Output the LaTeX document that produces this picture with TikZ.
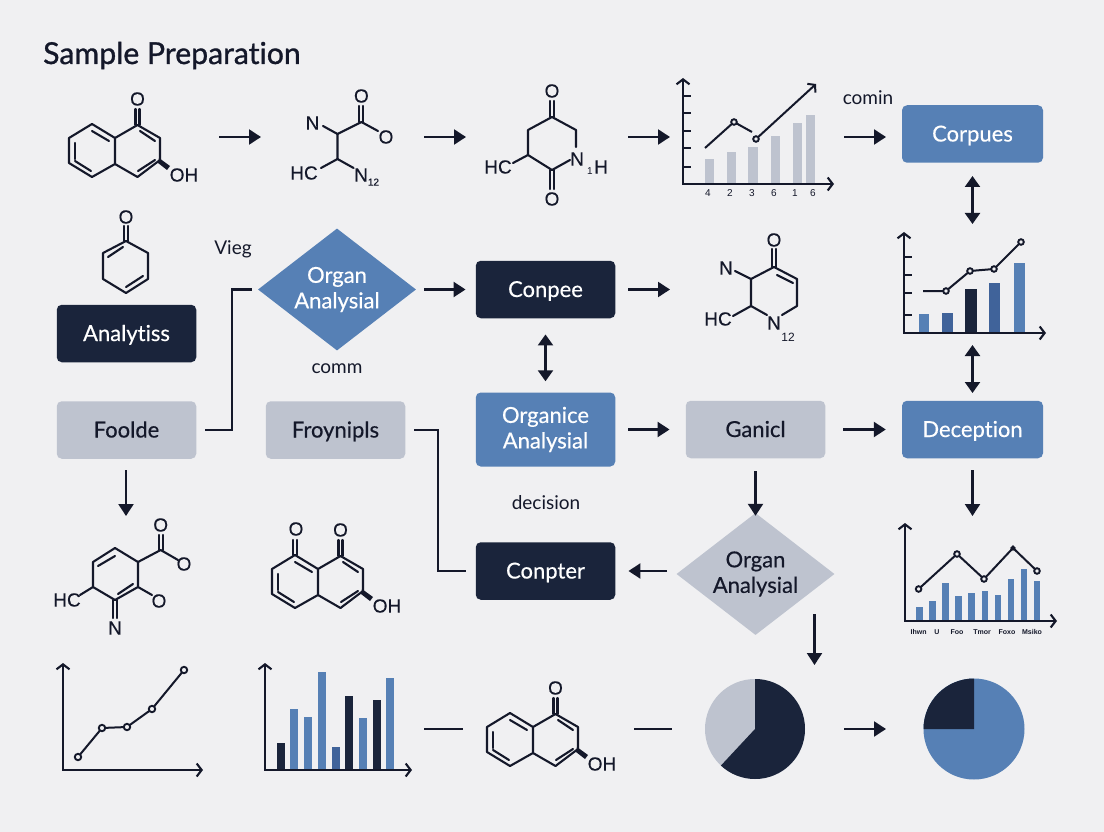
\documentclass[tikz,border=0pt]{standalone}
\usepackage{fontspec}
\setmainfont{Lato}
\newfontfamily\molf[FakeBold=0.3]{Liberation Sans}
\newfontfamily\tickf{Liberation Sans}
\newfontfamily\titlef[FakeBold=1,Ligatures=NoCommon]{Lato}
\newfontfamily\nodef[FakeBold=0.4,Ligatures=NoCommon]{Lato}
\usetikzlibrary{arrows.meta,shapes.geometric}
\definecolor{bg}{HTML}{F0F0F2}
\definecolor{ink}{HTML}{14182A}
\definecolor{navy}{HTML}{1A243B}
\definecolor{blue}{HTML}{5680B5}
\definecolor{midblue}{HTML}{40639A}
\definecolor{grey}{HTML}{BEC3CF}
\tikzset{
  boxshape/.style={rectangle,rounded corners=5pt,minimum width=139.5pt,minimum height=57.5pt,inner sep=0pt,align=center,font=\nodef\fontsize{22}{25.5}\selectfont},
  oneline/.style={text height=20pt,text depth=5pt},
  boxdark/.style={boxshape,oneline,fill=navy,text=white},
  boxblue/.style={boxshape,oneline,fill=blue,text=white},
  boxgrey/.style={boxshape,oneline,fill=grey,text=ink},
  boxblueii/.style={boxshape,fill=blue,text=white},
  diashape/.style={diamond,aspect=1.295,minimum width=158pt,minimum height=122pt,inner sep=0pt,align=center,font=\nodef\fontsize{22}{25.5}\selectfont},
  lbl/.style={inner sep=0pt,text=ink,font=\fontsize{19}{22}\selectfont},
  atom/.style={inner sep=0pt,text=ink,font=\molf\fontsize{19}{20}\selectfont},
  tiny/.style={inner sep=0pt,text=ink,font=\tickf\fontsize{10}{11}\selectfont},
  bond/.style={draw=ink,line width=2.1pt,line join=round,line cap=round},
  conn/.style={draw=ink,line width=2.3pt},
  arr/.style={conn,-{Triangle[length=12pt,width=15pt]}},
  arrboth/.style={conn,{Triangle[length=11pt,width=15pt]}-{Triangle[length=11pt,width=15pt]}},
  axis/.style={draw=ink,line width=2.1pt,{Straight Barb[length=5pt,width=13pt]}-{Straight Barb[length=5pt,width=13pt]}},
  plot/.style={draw=ink,line width=2pt},
  dot/.style={draw=ink,line width=1.9pt,fill=bg},
}
% naphthalene skeleton with its first carbonyl and hydroxyl
\newcommand{\naph}[3]{%
\begin{scope}[shift={(#2,#3)}]
  \draw[bond] (92,124) -- (69,138) -- (69,163) -- (92,177) -- (115,164) -- (115,138) -- cycle;
  \draw[bond] (115,138) -- (137.5,125) -- (160,138) -- (160,160) -- (137.5,177) -- (115,164);
  \draw[bond] (92,131) -- (109,141);
  \draw[bond] (75,143) -- (75,159);
  \draw[bond] (75,161) -- (91,171);
  \draw[bond] (140,131) -- (155,141);
  \draw[bond] (138,171) -- (155,160);
  \draw[bond] (135.5,125) -- (135.5,109);
  \draw[bond] (139.5,125) -- (139.5,109);
  \fill[ink] (159,158) -- (170,166) -- (167,170) -- (158,163) -- cycle;
  \node[atom] (#1o) at (137.5,99) {O};
  \node[atom] (#1oh) at (184,175) {OH};
\end{scope}}
\begin{document}
\begin{tikzpicture}[x=1pt,y=-1pt]
\useasboundingbox[fill=bg] (0,0) rectangle (1104,832);

\node[anchor=base west,inner sep=0pt,text=ink,font=\titlef\fontsize{30.2}{33}\selectfont] (title) at (43,64) {Sample Preparation};

% ---------- molecules
\naph{a}{0}{0}
\naph{b}{203}{431}
\naph{c}{418}{589}
\begin{scope}[shift={(203,431)}]
  \draw[bond] (90,124) -- (90,109); \draw[bond] (94,124) -- (94,109);
\end{scope}
\node[atom] (bo2) at (296,529) {O};

% molecule 2
\draw[bond] (323,126) -- (337.5,134) -- (361.4,122) -- (378,131);
\draw[bond] (359.4,122) -- (359.4,106); \draw[bond] (363.4,122) -- (363.4,106);
\draw[bond] (337.5,134) -- (337.5,159) -- (321,168);
\draw[bond] (337.5,159) -- (353.6,168);
\node[atom] (m2n) at (312.5,123) {N};
\node[atom] (m2o) at (361.4,96) {O};
\node[atom] (m2r) at (386,137) {O};
\node[atom] (m2hc) at (304,173) {HC};
\node[atom,anchor=west] (m2n2) at (354,177) {N\raisebox{-4pt}{\fontsize{10}{10}\selectfont 12}};

% molecule 3
\draw[bond] (552,117) -- (576,130) -- (576,147);
\draw[bond] (552,117) -- (528,130) -- (528,155) -- (552,170) -- (570,160);
\draw[bond] (528,155) -- (513,163);
\draw[bond] (550,117) -- (550,101); \draw[bond] (554,117) -- (554,101);
\draw[bond] (550,170) -- (550,189); \draw[bond] (554,170) -- (554,189);
\node[atom] (m3o) at (552,91) {O};
\node[atom] (m3p) at (552,199) {O};
\node[atom] (m3hc) at (498,167) {HC};
\node[atom,anchor=west] (m3n) at (570,159) {N};
\node[atom,anchor=west] (m3h) at (594,167) {H};
\node[tiny] (m3s) at (590,171) {1};

% single ring
\draw[bond] (126,241) -- (148,253) -- (148,279) -- (126,293) -- (103,279) -- (103,253) -- cycle;
\draw[bond] (108,257) -- (123,247);
\draw[bond] (126,287) -- (143,276);
\draw[bond] (124,241) -- (124,226); \draw[bond] (128,241) -- (128,226);
\node[atom] (m4o) at (126,217) {O};

% molecule right of Conpee
\draw[bond] (735,271) -- (751,279) -- (751,306);
\draw[bond] (751,279) -- (774,267) -- (797,279) -- (797,306) -- (782,315);
\draw[bond] (751,306) -- (767,315);
\draw[bond] (751,306) -- (733,316);
\draw[bond] (777,275) -- (793,283);
\draw[bond] (772,267) -- (772,249); \draw[bond] (776,267) -- (776,249);
\node[atom] (m5o) at (774,240) {O};
\node[atom] (m5n) at (726,268) {N};
\node[atom] (m5hc) at (718,319) {HC};
\node[atom] (m5m) at (774,323) {N};
\node[tiny,font=\tickf\fontsize{12}{12}\selectfont] (m5s) at (788,337) {12};

% molecule row 4 left
\draw[bond] (138,562) -- (115,548) -- (93,562) -- (93,587) -- (115,600) -- (138,587) -- cycle;
\draw[bond] (115,556) -- (98,566);
\draw[bond] (118,594) -- (133,584);
\draw[bond] (138,562) -- (160.7,550) -- (178,560);
\draw[bond] (158.7,550) -- (158.7,535); \draw[bond] (162.7,550) -- (162.7,535);
\draw[bond] (138,587) -- (152,595);
\draw[bond] (93,587) -- (80,595);
\draw[bond] (113,600) -- (113,618); \draw[bond] (117,600) -- (117,618);
\node[atom] (m6o) at (160.7,525) {O};
\node[atom] (m6r) at (184,564) {O};
\node[atom] (m6s) at (159,601) {O};
\node[atom] (m6hc) at (67,600) {HC};
\node[atom] (m6n) at (115,628) {N};

% ---------- chart 1
\foreach \xa/\xb/\yt in {705/714/159,727/736/152,748/758/147,771/780/136,793/802/123,806/815/115}
  \fill[grey] (\xa,\yt) rectangle (\xb,183);
\draw[axis] (683,78) -- (683,184) -- (834,184);
\foreach \yt in {96,113,131,148,167} \draw[plot] (683,\yt) -- (691,\yt);
\draw[plot] (705,148) -- (734,122);
\draw[plot] (734,122) -- (752,132);
\draw[plot,-{Straight Barb[length=5pt,width=12pt]}] (756,139) -- (816,84);
\draw[dot] (734,122) circle[radius=2.8];
\draw[dot] (756,139) circle[radius=2.8];
\foreach \xa/\lab/\nm in {708/4/p,730/2/q,752/3/r,774/6/s,795/1/t,813/6/u}
  \node[tiny] (tick\nm) at (\xa,193) {\lab};

% ---------- chart 2
\fill[blue] (919,314) rectangle (929,333);
\fill[midblue] (942,313) rectangle (953,333);
\fill[navy] (965,289) rectangle (977,333);
\fill[midblue] (989,283) rectangle (1000,333);
\fill[blue] (1014,263) rectangle (1025,333);
\draw[axis] (904,232) -- (904,333) -- (1046,333);
\foreach \yt in {257,275,293,315} \draw[plot] (904,\yt) -- (912,\yt);
\draw[plot] (923,291) -- (946,291) -- (970,271) -- (994,269) -- (1021,242);
\foreach \xa/\yt in {946/291,970/271,994/269,1021/242} \draw[dot] (\xa,\yt) circle[radius=2.8];

% ---------- chart 3
\foreach \xc/\yt in {919.4/607,932.4/601,945.5/583,958.6/596,971.6/593,984.7/591,997.8/595,1010.8/579,1023.9/569,1037/581}
  \fill[blue] (\xc-3.2,\yt) rectangle (\xc+3.2,620);
\draw[axis] (905,523) -- (905,621) -- (1057,621);
\draw[plot] (918.6,589) -- (957,554) -- (984,579) -- (1013,548) -- (1037,571);
\foreach \xa/\yt/\r in {918.6/589/2.8,957/554/2.8,984/579/2.8,1013/548/1.6,1037/571/2.8} \draw[dot] (\xa,\yt) circle[radius=\r];
\foreach \xa/\lab/\nm in {918.6/Ihwn/p,937/U/q,957/Foo/r,982/Tmor/s,1007/Foxo/t,1032/Msiko/u}
  \node[tiny,font=\tickf\bfseries\fontsize{7}{8}\selectfont] (low\nm) at (\xa,632) {\lab};

% ---------- chart bottom left
\draw[axis] (63,663) -- (63,770) -- (203,770);
\draw[plot] (78,757) -- (102,728) -- (127,727) -- (152,709) -- (184,670);
\foreach \xa/\yt in {78/757,102/728,127/727,152/709,184/670} \draw[dot] (\xa,\yt) circle[radius=3.2];

% ---------- bar chart bottom
\foreach \xa/\yt/\c in {277/743/navy,290/709/blue,304/717/blue,318/672/blue,332/747/midblue,345/696/navy,359/718/blue,373/700/navy,386/678/blue}
  \fill[\c] (\xa,\yt) rectangle (\xa+8.3,769);
\draw[axis] (265,663) -- (265,770) -- (412,770);

% ---------- pies
\fill[grey] (755,729) circle[radius=50];
\fill[navy] (755,729) -- (755,679) arc[start angle=-90,end angle=133,radius=50] -- cycle;
\fill[blue] (974,729) circle[radius=50.5];
\fill[navy] (974,729) -- (923.5,729) arc[start angle=180,end angle=270,radius=50.5] -- cycle;

% ---------- boxes and decisions
\node[boxblue,minimum width=141pt] (corpues) at (972.5,134) {Corpues};
\node[boxdark] (analytiss) at (126.5,333.5) {Analytiss};
\node[boxgrey] (foolde) at (126.5,430) {Foolde};
\node[boxgrey] (froynipls) at (335.5,430) {Froynipls};
\node[boxdark] (conpee) at (545.5,289.5) {Conpee};
\node[boxblueii,minimum height=74pt] (organice) at (545.5,429.5) {Organice\\Analysial};
\node[boxgrey] (ganicl) at (755.5,429.5) {Ganicl};
\node[boxblue,minimum width=141pt] (deception) at (972.5,429.5) {Deception};
\node[boxdark] (conpter) at (545.5,571) {Conpter};
\node[diashape,fill=blue,text=white] (dia1) at (337,289.5) {Organ\\Analysial};
\node[diashape,fill=grey,text=ink] (dia2) at (755.5,574) {Organ\\Analysial};

% ---------- free labels
\node[lbl] (vieg) at (233,249) {Vieg};
\node[lbl] (comm) at (337,369) {comm};
\node[lbl] (decision) at (546,503) {decision};
\node[lbl] (comin) at (868,98) {comin};

% ---------- connector end points
\coordinate (m1out) at (219,137); \coordinate (m2in) at (261,137);
\coordinate (m2out) at (424,137); \coordinate (m3in) at (466,137);
\coordinate (m3out) at (628,137); \coordinate (c1in) at (670,137);
\coordinate (c1out) at (844,137); \coordinate (corpin) at (886,137);
\coordinate (corpdn) at (972.5,176); \coordinate (c2up) at (972.5,224);
\coordinate (c2dn) at (972.5,345); \coordinate (decup) at (972.5,393);
\coordinate (decdn) at (972.5,470); \coordinate (c3up) at (972.5,516);
\coordinate (c5in) at (670,289.5); \coordinate (p1up) at (814.5,665);
\coordinate (d2out) at (814.5,614); \coordinate (d2w) at (676,571);
\coordinate (l1a) at (424,729); \coordinate (l1b) at (463,729);
\coordinate (l2a) at (634,729); \coordinate (l2b) at (672,729);
\coordinate (l3a) at (844,729); \coordinate (l3b) at (886,729);
\coordinate (fdn) at (126,470); \coordinate (m6up) at (126,516);
\coordinate (e1) at (232,430); \coordinate (e2) at (232,289.5);
\coordinate (e3) at (438,430); \coordinate (e4) at (438,571);

% ---------- connectors
\draw[arr] (m1out) -- (m2in);
\draw[arr] (m2out) -- (m3in);
\draw[arr] (m3out) -- (c1in);
\draw[arr] (c1out) -- (corpin);
\draw[arrboth] (corpdn) -- (c2up);
\draw[arrboth] (c2dn) -- (decup);
\draw[arr] (decdn) -- (c3up);
\draw[arr,shorten <=8pt,shorten >=10pt] (dia1.east) -- (conpee.west);
\draw[arr,shorten <=13pt] (conpee.east) -- (c5in);
\draw[arrboth,shorten <=16pt,shorten >=11pt] (conpee.south) -- (organice.north);
\draw[arr,shorten <=13pt,shorten >=16pt] (organice.east) -- (ganicl.west);
\draw[arr,shorten <=18pt,shorten >=16pt] (ganicl.east) -- (deception.west);
\draw[arr,shorten <=13pt,shorten >=-3pt] (ganicl.south) -- (dia2.north);
\draw[arr,shorten <=9pt,shorten >=13pt] (d2w) -- (conpter.east);
\draw[arr] (d2out) -- (p1up);
\draw[arr] (fdn) -- (m6up);
\draw[conn,shorten <=9pt,shorten >=6pt] (foolde.east) -- (e1) -- (e2) -- (dia1.west);
\draw[conn,shorten <=9pt,shorten >=10pt] (froynipls.east) -- (e3) -- (e4) -- (conpter.west);
\draw[conn] (l1a) -- (l1b);
\draw[conn] (l2a) -- (l2b);
\draw[arr] (l3a) -- (l3b);
\end{tikzpicture}
\end{document}
